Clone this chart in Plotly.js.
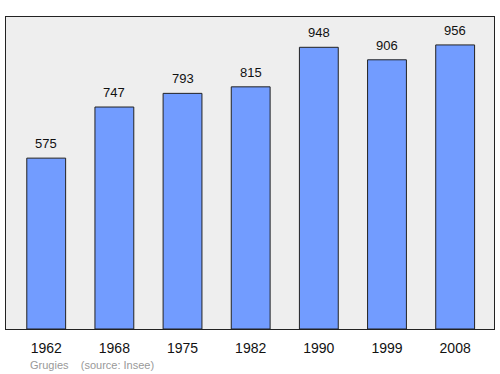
<!DOCTYPE html>
<html><head><meta charset="utf-8">
<script src="https://cdn.plot.ly/plotly-3.0.1.min.js"></script>
<style>html,body{margin:0;padding:0;background:#fff;}#c{width:500px;height:374px;}</style>
</head><body><div id="c"></div>
<script>
const years = ["1962","1968","1975","1982","1990","1999","2008"];
const population = [575, 747, 793, 815, 948, 906, 956];
const footer = "Grugies    (source: Insee)";
const FONT = "Liberation Sans, Arial, sans-serif";

const trace = {
  type: "bar",
  x: years,
  y: population,
  width: 0.57,
  marker: {color: "#729cff", line: {color: "#222", width: 1}},
  hoverinfo: "none"
};
const annotations = years.map((yr, i) => ({
  x: i, y: population[i], xref: "x", yref: "y",
  text: String(population[i]), showarrow: false,
  yanchor: "bottom", yshift: 5,
  font: {family: FONT, size: 13, color: "#111"}
}));
annotations.push({
  xref: "paper", yref: "paper", x: 0.045, y: -0.115, xanchor: "left", yanchor: "middle",
  text: footer.replace(/ /g, "&nbsp;"), showarrow: false,
  font: {family: FONT, size: 11, color: "#999"}
});
const layout = {
  width: 500, height: 374,
  margin: {l: 5.5, r: 6, t: 17, b: 45},
  paper_bgcolor: "#fff", plot_bgcolor: "#eeeeee",
  showlegend: false,
  xaxis: {
    type: "category", range: [-0.59, 6.57],
    showgrid: false, zeroline: false, showline: true, linecolor: "#222", linewidth: 1.2, mirror: true,
    ticks: "", ticklabelstandoff: 6,
    tickfont: {family: FONT, size: 14, color: "#111"}
  },
  yaxis: {
    range: [0, 1050], showgrid: false, zeroline: false, showticklabels: false,
    showline: true, linecolor: "#222", linewidth: 1.2, mirror: true, ticks: ""
  },
  annotations: annotations
};
Plotly.newPlot("c", [trace], layout, {displayModeBar: false, staticPlot: true});
</script></body></html>
